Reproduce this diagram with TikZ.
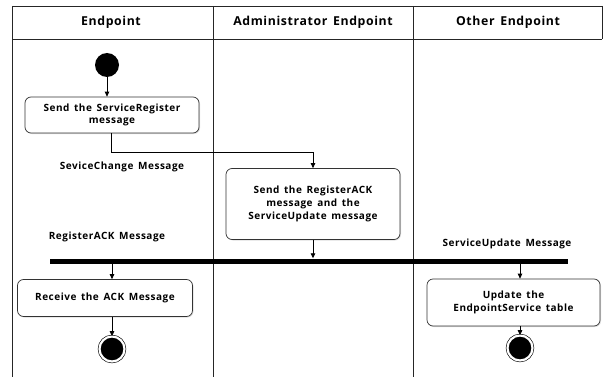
\documentclass[tikz,border=0pt]{standalone}
\usepackage{fontspec}
\setmainfont{Open Sans}[WordSpace=1.5,LetterSpace=5]
\usetikzlibrary{arrows.meta,shadows}
\begin{document}
\begin{tikzpicture}[x=1pt,y=-1pt,
  lane/.style={line width=0.9pt,draw=black!85},
  hdr/.style={font=\bfseries\fontsize{12.3}{14}\selectfont},
  act/.style={draw=black!80,line width=0.7pt,rounded corners=6pt,fill=white,
    align=center,inner sep=2pt,font=\bfseries\fontsize{10}{12.6}\selectfont,
    drop shadow={shadow xshift=1pt,shadow yshift=-1pt,opacity=0.25}},
  msg/.style={font=\bfseries\fontsize{10}{11}\selectfont},
  arr/.style={line width=0.8pt,-{Triangle[length=5pt,width=4.5pt]}},
  initial/.style={circle,fill=black,minimum size=24pt,inner sep=0pt},
  final/.style={circle,draw=black,line width=0.6pt,fill=black,minimum size=25pt,
    inner sep=0pt,double=white,double distance=2.2pt},
  forkbar/.style={rectangle,fill=black,inner sep=0pt,minimum height=5pt}]
\useasboundingbox (0,0) rectangle (604,377);

% swimlane frame
\draw[lane] (12,6) -- (602,6) (12,39) -- (602,39);
\draw[lane] (12,6) -- (12,377) (213,6) -- (213,377) (413,6) -- (413,377) (602,6) -- (602,39);
\node[hdr] (h1) at (111,22) {Endpoint};
\node[hdr] (h2) at (313,22) {Administrator Endpoint};
\node[hdr] (h3) at (508,22) {Other Endpoint};

% activities
\node[initial] (start) at (107,65) {};
\node[act,minimum width=174pt,minimum height=36pt] (reg) at (112,115)
  {Send the ServiceRegister\\message};
\node[act,minimum width=174pt,minimum height=71pt] (ack) at (313,204)
  {Send the RegisterACK\\message and the\\ServiceUpdate message};
\node[forkbar,minimum width=518pt] (bar) at (309,261) {};
\node[act,minimum width=175pt,minimum height=37pt] (recv) at (105,298)
  {Receive the ACK Message};
\node[act,minimum width=173pt,minimum height=47pt] (upd) at (513.5,302.5)
  {Update the\\EndpointService table};
\node[final] (end1) at (112,349) {};
\node[final] (end2) at (520,348) {};

% message labels
\node[msg] (m1) at (122,167) {SeviceChange Message};
\node[msg] (m2) at (107,237) {RegisterACK Message};
\node[msg] (m3) at (507,244) {ServiceUpdate Message};

% flows
\draw[arr] (start) -- (start |- reg.north);
\draw[arr] (reg.south -| 111,0) -- (111,152) -| (ack.north);
\draw[arr] (ack.south) -- (ack.south |- bar.north);
\draw[arr] (bar.south -| end1) -- (recv.north -| end1);
\draw[arr] (recv.south -| end1) -- (end1.north);
\draw[arr] (bar.south -| end2) -- (upd.north -| end2);
\draw[arr] (upd.south -| end2) -- (end2.north);
\end{tikzpicture}
\end{document}
